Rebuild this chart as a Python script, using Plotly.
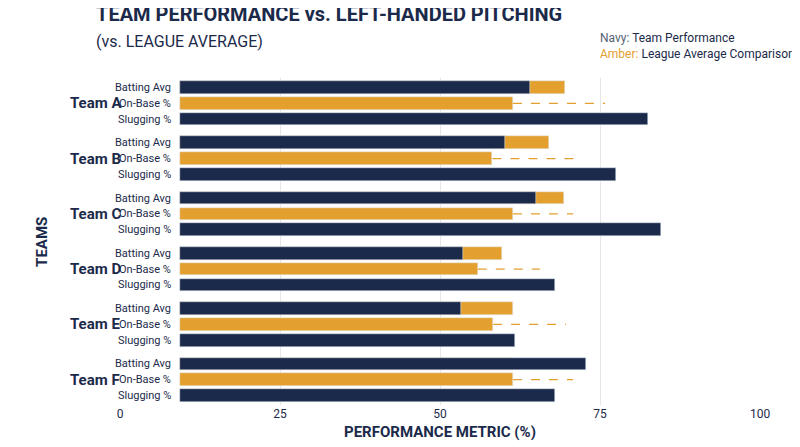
import plotly.graph_objects as go

teams = ["Team A", "Team B", "Team C", "Team D", "Team E", "Team F"]
metrics = ["Batting Avg", "On-Base %", "Slugging %"]
bat_team = [64.0, 60.1, 65.0, 53.6, 53.3, 72.8]
bat_league = [69.5, 67.0, 69.4, 59.7, 61.4, 61.4]
obp_bar = [61.4, 58.2, 61.4, 55.9, 58.3, 61.4]
obp_dash = [75.8, 71.4, 70.8, 65.6, 69.7, 70.8]
slg_team = [82.5, 77.5, 84.5, 68.0, 61.7, 68.0]

NAVY = "#1b2a4a"
AMBER = "#e3a02f"
BASE = 9.3
FONT = "Roboto"

def ypos(i, j):
    return -(i * 3.5 + j)

fig = go.Figure()
ya = [ypos(i, 0) for i in range(len(teams))]
yo = [ypos(i, 1) for i in range(len(teams))]
ys = [ypos(i, 2) for i in range(len(teams))]

fig.add_bar(y=ya, x=[v - BASE for v in bat_league], base=BASE, orientation="h",
            marker_color=AMBER, width=0.8, showlegend=False)
fig.add_bar(y=ya, x=[v - BASE for v in bat_team], base=BASE, orientation="h",
            marker_color=NAVY, width=0.8, showlegend=False)
fig.add_bar(y=yo, x=[v - BASE for v in obp_bar], base=BASE, orientation="h",
            marker_color=AMBER, width=0.8, showlegend=False)
fig.add_bar(y=ys, x=[v - BASE for v in slg_team], base=BASE, orientation="h",
            marker_color=NAVY, width=0.8, showlegend=False)

for i in range(len(teams)):
    fig.add_scatter(x=[obp_bar[i], obp_dash[i]], y=[yo[i], yo[i]], mode="lines",
                    line=dict(color=AMBER, width=1.2, dash="dash"), showlegend=False)
    for j, m in enumerate(metrics):
        fig.add_annotation(x=8.3, y=ypos(i, j), xref="x", yref="y", text=m,
                           showarrow=False, xanchor="right",
                           font=dict(family=FONT, size=11, color=NAVY))
    fig.add_annotation(x=-0.082, y=ypos(i, 1), xref="paper", yref="y",
                       text="<b>" + teams[i] + "</b>", showarrow=False,
                       font=dict(family=FONT, size=15, color=NAVY))

fig.add_annotation(x=-0.14, y=0.5, xref="paper", yref="paper", text="<b>TEAMS</b>",
                   textangle=-90, showarrow=False, font=dict(family=FONT, size=15, color=NAVY))

fig.update_layout(
    width=800, height=447,
    margin=dict(l=112, r=48, t=70, b=50),
    plot_bgcolor="white", paper_bgcolor="white",
    barmode="overlay", bargap=0,
    title=dict(text="<b>TEAM PERFORMANCE vs. LEFT-HANDED PITCHING</b><br>"
                    "<span style='font-size:16px;font-weight:normal'>(vs. LEAGUE AVERAGE)</span>",
               x=88 / 800, xanchor="left", y=0.97, yanchor="top",
               font=dict(family=FONT, size=20, color=NAVY)),
    xaxis=dict(range=[0, 100], tickvals=[0, 25, 50, 75, 100], showgrid=True,
               gridcolor="#e6e6e6", zeroline=False, showline=False,
               tickfont=dict(family=FONT, size=12, color=NAVY),
               title=dict(text="<b>PERFORMANCE METRIC (%)</b>", standoff=6,
                          font=dict(family=FONT, size=15, color=NAVY))),
    yaxis=dict(range=[ypos(5, 2) - 0.6, 0.6], showticklabels=False, showgrid=False,
               zeroline=False),
)
fig.add_annotation(x=597 / 800, y=1.15, xref="paper", yref="paper", xanchor="left",
                   align="left", showarrow=False,
                   text="<span style='color:#555f73'>Navy:</span> Team Performance<br>"
                        "<span style='color:" + AMBER + "'>Amber:</span> League Average Comparison",
                   font=dict(family=FONT, size=12, color=NAVY))

fig.write_html("out.html")
